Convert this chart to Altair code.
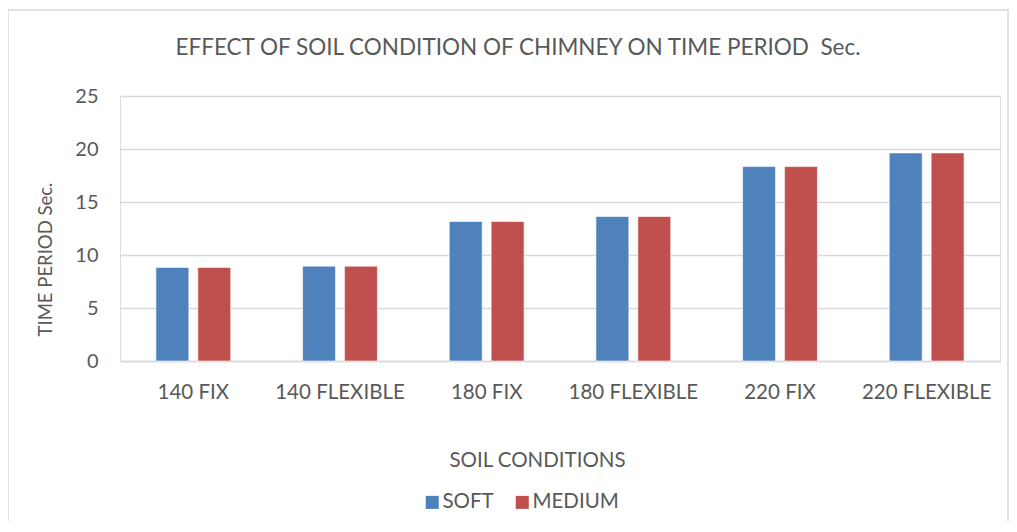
import altair as alt
import pandas as pd

categories = ["140 FIX", "140 FLEXIBLE", "180 FIX", "180 FLEXIBLE", "220 FIX", "220 FLEXIBLE"]
series = ["SOFT", "MEDIUM"]
soft = [8.83, 8.95, 13.16, 13.63, 18.34, 19.63]
medium = [8.83, 8.95, 13.16, 13.63, 18.34, 19.63]
colors = ["#4F81BD", "#C0504D"]

rows = []
for c, s, m in zip(categories, soft, medium):
    rows.append({"cat": c, "series": "SOFT", "value": s})
    rows.append({"cat": c, "series": "MEDIUM", "value": m})
df = pd.DataFrame(rows)

FONT = "Lato"
TXT = "#595959"
GRID = "#d9d9d9"

bars = alt.Chart(df).mark_bar(stroke="white", strokeWidth=0.6).encode(
    x=alt.X("cat:N", sort=categories,
            scale=alt.Scale(paddingInner=0.49, paddingOuter=0.245),
            axis=alt.Axis(title="SOIL CONDITIONS", labelAngle=0, ticks=False,
                          labelPadding=21, labelFontSize=20.5, labelColor=TXT,
                          labelFont=FONT, domainColor=GRID, domainWidth=1.5,
                          titleFont=FONT, titleFontSize=20.5, titleColor=TXT,
                          titleFontWeight="normal", titleX=417, titleY=99,
                          titleBaseline="middle", titleAlign="center", grid=False)),
    xOffset=alt.XOffset("series:N", sort=series,
                        scale=alt.Scale(paddingInner=0.214, paddingOuter=0)),
    y=alt.Y("value:Q", scale=alt.Scale(domain=[0, 25]),
            axis=alt.Axis(title="TIME PERIOD Sec.", values=[0, 5, 10, 15, 20, 25],
                          ticks=False, domain=False, labelPadding=22,
                          labelFontSize=20, labelColor=TXT, labelFont=FONT,
                          gridColor=GRID, gridWidth=1.5,
                          titleFont=FONT, titleFontSize=18.5, titleColor=TXT,
                          titleFontWeight="normal", titleX=-75, titleY=163,
                          titleAngle=-90, titleBaseline="middle", titleAlign="center")),
    color=alt.Color("series:N", sort=series,
                    scale=alt.Scale(domain=series, range=colors),
                    legend=alt.Legend(title=None, orient="none", direction="horizontal",
                                      legendX=302, legendY=396, symbolType="square",
                                      symbolSize=170, symbolStrokeWidth=0,
                                      labelFont=FONT, labelFontSize=20.5, labelColor=TXT,
                                      labelOffset=0, columnPadding=18)),
)

border = alt.Chart(pd.DataFrame({"a": [0]})).mark_rect(
    fill=None, stroke=GRID, strokeWidth=1.5
).encode(
    x=alt.value(-112), x2=alt.value(888), y=alt.value(-86), y2=alt.value(500)
)

chart = alt.layer(border, bars).properties(
    width=880, height=265,
    title=alt.TitleParams(
        "EFFECT OF SOIL CONDITION OF CHIMNEY ON TIME PERIOD\u00a0 Sec.",
        font=FONT, fontSize=22.5, fontWeight="normal", color=TXT,
        anchor="middle", dx=-42, offset=-68, baseline="alphabetic"),
    autosize=alt.AutoSizeParams(type="none"),
    padding={"left": 112, "top": 88, "right": 9, "bottom": 160},
).configure_view(stroke=None).configure(background="white")

chart.save("out.html", embed_options={"renderer": "svg", "actions": False})
